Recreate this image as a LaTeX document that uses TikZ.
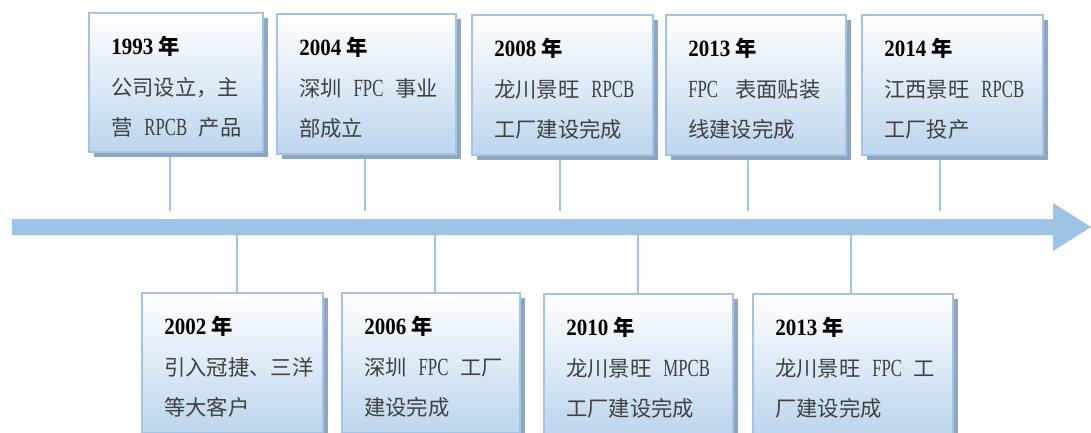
\documentclass[tikz,border=0pt]{standalone}
\usepackage{fontspec}
\setmainfont{Liberation Serif}
\newfontfamily\cjk{Noto Sans CJK SC}
\newfontfamily\latn[FakeStretch=0.68]{Liberation Serif}
\newfontfamily\yearfont[FakeStretch=0.9]{Liberation Serif}
\usetikzlibrary{calc,backgrounds}
\definecolor{bord}{HTML}{A3C4E6}
\definecolor{shad}{HTML}{8FA6C2}
\definecolor{grad}{HTML}{BDD5EE}
\definecolor{arrowc}{HTML}{9DC3E6}
\definecolor{txt}{HTML}{404040}
\newcommand\gp{\hspace{0.55em}}
\newcommand\lx[1]{{\latn\fontsize{18.5}{16}\selectfont #1}}
\tikzset{
  tbox/.style={draw=bord, line width=1.8pt, top color=white, bottom color=grad, inner sep=0pt, outer sep=0pt, anchor=north west},
  shadowbox/.style={fill=shad},
  yr/.style={anchor=base west, inner sep=0pt, font=\yearfont\bfseries\fontsize{17.5}{16}\selectfont, text=black},
  ln/.style={anchor=base west, inner sep=0pt, font=\cjk\fontsize{16}{16}\selectfont, text=txt},
  conn/.style={draw=bord, line width=1.6pt}
}
\newcommand\mkbox[8]{%
  \fill[shadowbox] (#2+5,#3+5) rectangle ++(#4,#5);
  \node[tbox, minimum width=#4*0.75pt, minimum height=#5*0.75pt] (#1) at (#2,#3) {};
  \node[yr] (#1y) at ($(#1.north west)+(22,41)$) {#6};
  \node[ln] (#1a) at ($(#1.north west)+(22,82)$) {#7};
  \node[ln] (#1b) at ($(#1.north west)+(22,122)$) {#8};
}
\newcommand\nian{{\cjk\fontsize{16}{16}\selectfont 年}}
\begin{document}
\begin{tikzpicture}[x=0.75pt,y=-0.75pt]
\useasboundingbox (0,0) rectangle (1091,432);
\clip (0,0) rectangle (1091,432);
% timeline arrow
\fill[arrowc] (12,219) -- (1053,219) -- (1053,203) -- (1091,227) -- (1053,251) -- (1053,235) -- (12,235) -- cycle;
% top boxes
\mkbox{t1}{89}{13}{174}{139}{1993 \nian}{公司设立，主}{营{\gp}\lx{RPCB}{\gp}产品}
\mkbox{t2}{277}{14}{179}{140}{2004 \nian}{深圳{\gp}\lx{FPC}{\gp}事业}{部成立}
\mkbox{t3}{472}{15}{181}{140}{2008 \nian}{龙川景旺{\gp}\lx{RPCB}}{工厂建设完成}
\mkbox{t4}{666}{15}{180}{140}{2013 \nian}{\lx{FPC}\hspace{0.8em}表面贴装}{线建设完成}
\mkbox{t5}{862}{15}{181}{140}{2014 \nian}{江西景旺{\gp}\lx{RPCB}}{工厂投产}
% bottom boxes
\mkbox{b1}{142}{293}{181}{140}{2002 \nian}{引入冠捷、三洋}{等大客户}
\mkbox{b2}{342}{293}{178}{140}{2006 \nian}{深圳{\gp}\lx{FPC}{\gp}工厂}{建设完成}
\mkbox{b3}{544}{294}{189}{140}{2010 \nian}{龙川景旺{\gp}\lx{MPCB}}{工厂建设完成}
\mkbox{b4}{753}{294}{200}{140}{2013 \nian}{龙川景旺{\gp}\lx{FPC}{\gp}工}{厂建设完成}
% connector ends on the timeline
\coordinate (c1) at (170,211);
\coordinate (c2) at (365,211);
\coordinate (c3) at (560,211);
\coordinate (c4) at (748,211);
\coordinate (c5) at (940,211);
\coordinate (d1) at (237,235);
\coordinate (d2) at (435,235);
\coordinate (d3) at (638,235);
\coordinate (d4) at (851,235);
\begin{pgfonlayer}{background}
\draw[conn] (c1 |- t1.south) -- (c1);
\draw[conn] (c2 |- t2.south) -- (c2);
\draw[conn] (c3 |- t3.south) -- (c3);
\draw[conn] (c4 |- t4.south) -- (c4);
\draw[conn] (c5 |- t5.south) -- (c5);
\draw[conn] (d1) -- (d1 |- b1.north);
\draw[conn] (d2) -- (d2 |- b2.north);
\draw[conn] (d3) -- (d3 |- b3.north);
\draw[conn] (d4) -- (d4 |- b4.north);
\end{pgfonlayer}
\end{tikzpicture}
\end{document}
